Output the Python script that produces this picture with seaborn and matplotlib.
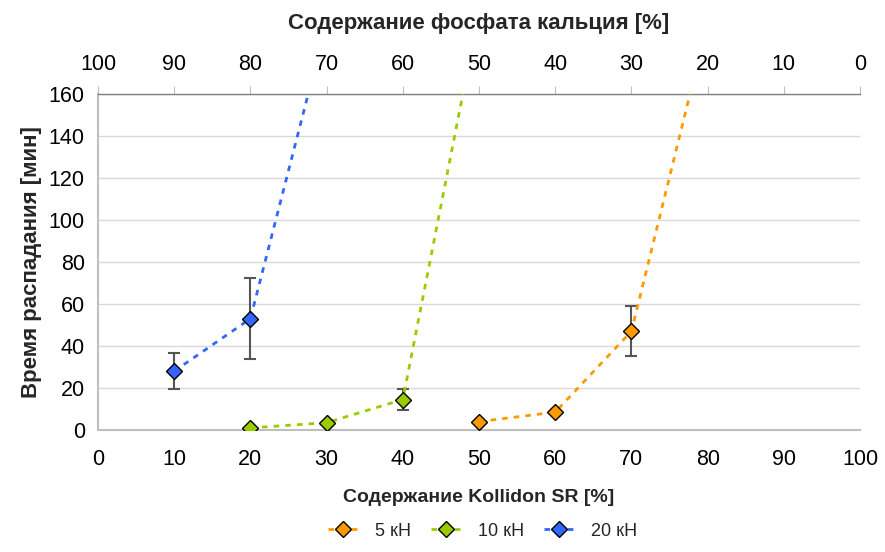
import matplotlib
matplotlib.use("Agg")
from matplotlib import pyplot as plt
import numpy as np
import pandas as pd
import seaborn as sns

# Kollidon SR content [%] and disintegration time [min]
x_5kn = [50, 60, 70, 80]
y_5kn = [4, 8.5, 47, 194]
err_5kn = [0, 0, 11.9, 0]

x_10kn = [20, 30, 40, 50]
y_10kn = [1, 3.5, 14.5, 199]
err_10kn = [0, 0, 4.8, 0]

x_20kn = [10, 20, 30]
y_20kn = [28, 53, 194]
err_20kn = [8.6, 19.3, 0]

labels = ["5 кН", "10 кН", "20 кН"]
colors = ["#FF9900", "#99CC00", "#3366FF"]

sns.set_style("white")
plt.rcParams['font.family'] = ['Liberation Sans', 'DejaVu Sans']

df = pd.concat([
    pd.DataFrame({"x": x_5kn, "y": y_5kn, "err": err_5kn, "load": labels[0]}),
    pd.DataFrame({"x": x_10kn, "y": y_10kn, "err": err_10kn, "load": labels[1]}),
    pd.DataFrame({"x": x_20kn, "y": y_20kn, "err": err_20kn, "load": labels[2]}),
], ignore_index=True)

fig = plt.figure(figsize=(8.85, 5.52), dpi=100)
ax = fig.add_axes([0.1107, 0.221, 0.8611, 0.6087])

# error bars first so the markers sit on top
for lab in labels:
    d = df[(df.load == lab) & (df.err > 0)]
    ax.errorbar(d.x, d.y, yerr=d.err, fmt="none", ecolor="#555555",
                elinewidth=1.5, capsize=4, capthick=1.5, zorder=2)

sns.lineplot(data=df, x="x", y="y", hue="load", style="load",
             palette=colors, markers=["D"] * 3, dashes=[(2, 2.2)] * 3,
             linewidth=2, markersize=8, markeredgecolor="black",
             markeredgewidth=1, ax=ax, legend=False, zorder=3)

ax.set_xlim(0, 100)
ax.set_ylim(0, 160)
ax.set_xticks(np.arange(0, 101, 10))
ax.set_yticks(np.arange(0, 161, 20))
ax.yaxis.grid(True, color="#D9D9D9", linewidth=1)
ax.xaxis.grid(False)
ax.tick_params(axis="both", labelsize=15.5, colors="#BFBFBF", labelcolor="black",
               direction="out", length=6, width=1)
ax.tick_params(axis="x", pad=8)

for s in ["left", "bottom"]:
    ax.spines[s].set_color("#BFBFBF")
    ax.spines[s].set_linewidth(1.5)
ax.spines["right"].set_visible(False)
ax.spines["top"].set_color("#808080")
ax.spines["top"].set_linewidth(1)

ax.set_xlabel("Содержание Kollidon SR [%]", fontsize=14, fontweight="bold", labelpad=13)
ax.set_ylabel("Время распадания [мин]", fontsize=16, fontweight="bold", labelpad=5)

# top axis: calcium phosphate content = 100 - Kollidon
inv = lambda v: 100 - v
top = ax.secondary_xaxis("top", functions=(inv, inv))
top.set_xticks(np.arange(0, 101, 10))
top.tick_params(labelsize=15.5, colors="#BFBFBF", labelcolor="black", length=6, pad=8)
top.spines["top"].set_visible(False)
top.set_xlabel("Содержание фосфата кальция [%]", fontsize=16, fontweight="bold", labelpad=18)

handles = [plt.Line2D([], [], color=c, linestyle=(0, (2, 2.2)), linewidth=2,
                      marker="D", markersize=8, markerfacecolor=c,
                      markeredgecolor="black") for c in colors]
fig.legend(handles, labels, loc="center", bbox_to_anchor=(0.545, 0.038), ncol=3,
           frameon=False, fontsize=13, handlelength=1.7, handletextpad=0.9,
           columnspacing=1.1)

plt.savefig("out.png", dpi=100)
